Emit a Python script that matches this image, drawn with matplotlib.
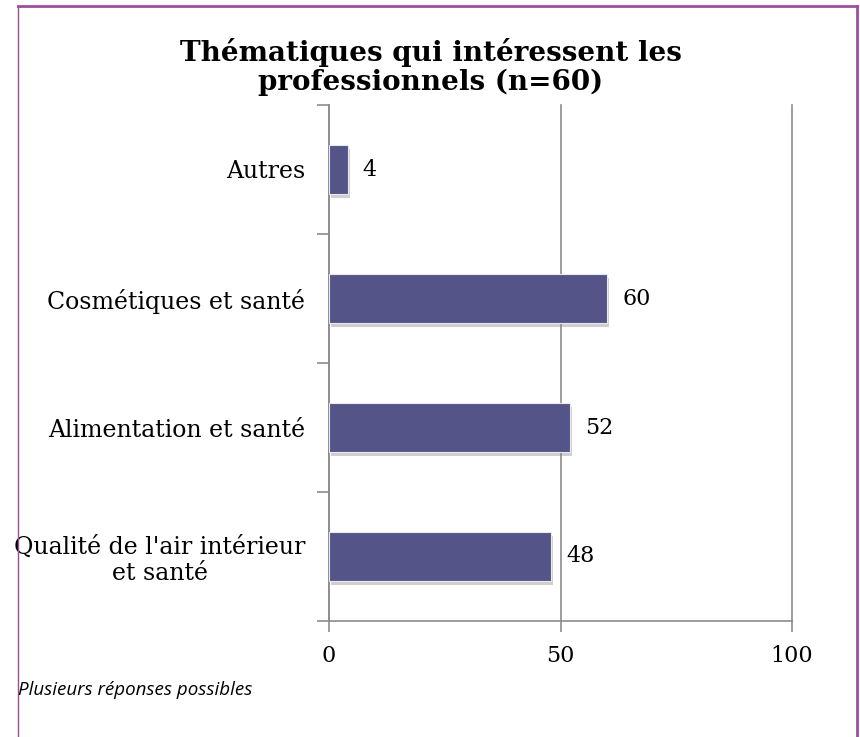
import matplotlib
matplotlib.use('Agg')
import matplotlib.pyplot as plt
import matplotlib.patheffects as pe

# data (bottom to top)
categories = ["Qualité de l'air intérieur\net santé", "Alimentation et santé",
              "Cosmétiques et santé", "Autres"]
values = [48, 52, 60, 4]
x_ticks = [0, 50, 100]

title = "Thématiques qui intéressent les\nprofessionnels (n=60)"
note = "Plusieurs réponses possibles"

bar_color = '#545488'
grid_color = '#8c8c8c'
frame_color = '#9b4f9b'
serif = ['DejaVu Serif']

fig = plt.figure(figsize=(8.6, 7.37), dpi=100)
W, H = 860, 737
ax = fig.add_axes([329 / W, 1 - 621 / H, (792 - 329) / W, (621 - 105) / H])

ypos = list(range(len(categories)))
bars = ax.barh(ypos, values, height=0.38, color=bar_color, edgecolor='#e8e8f0',
               linewidth=0.8, zorder=3)
for b in bars:
    b.set_path_effects([pe.SimplePatchShadow(offset=(1.5, -3), shadow_rgbFace='#888888',
                                             alpha=0.4), pe.Normal()])

for y, v in zip(ypos, values):
    ax.text(v + 3.3, y, str(v), va='center', ha='left', fontsize=16,
            family=serif, color='black')

ax.set_xlim(0, 100)
ax.set_ylim(-0.5, len(categories) - 0.5)
ax.set_xticks(x_ticks)
ax.set_xticklabels([str(t) for t in x_ticks], fontsize=16, family=serif)
ax.set_yticks(ypos)
ax.set_yticklabels(categories, fontsize=17, family=serif, linespacing=1.15)
for lab in ax.get_yticklabels():
    lab.set_multialignment('center')
ax.tick_params(axis='y', length=0, pad=17)
ax.tick_params(axis='x', length=8, color=grid_color, width=1.2, pad=9)

# category boundary ticks on the y axis
ax.set_yticks([y - 0.5 for y in range(len(categories) + 1)], minor=True)
ax.tick_params(axis='y', which='minor', length=9, color=grid_color, width=1.2)

ax.grid(axis='x', color=grid_color, linewidth=1.2, zorder=0)
for gl in ax.get_xgridlines():
    gl.set_clip_on(False)
ax.set_axisbelow(True)
for s in ['top', 'right']:
    ax.spines[s].set_visible(False)
for s in ['left', 'bottom']:
    ax.spines[s].set_color(grid_color)
    ax.spines[s].set_linewidth(1.2)

fig.text(431 / W, 1 - 67 / H, title, ha='center', va='center', fontsize=20,
         fontweight='bold', family=serif, linespacing=1.1)
fig.text(18 / W, 1 - 690 / H, note, ha='left', va='center', fontsize=13.5,
         style='italic', family=['Open Sans', 'DejaVu Sans'])

# purple frame (top, left, right)
fig.add_artist(plt.Line2D([18 / W, 857 / W], [1 - 6 / H, 1 - 6 / H], color=frame_color,
                          linewidth=2, transform=fig.transFigure))
fig.add_artist(plt.Line2D([18 / W, 18 / W], [0, 1 - 6 / H], color=frame_color,
                          linewidth=1, transform=fig.transFigure))
fig.add_artist(plt.Line2D([857 / W, 857 / W], [0, 1 - 6 / H], color=frame_color,
                          linewidth=2, transform=fig.transFigure))

fig.savefig('out.png', dpi=100)
